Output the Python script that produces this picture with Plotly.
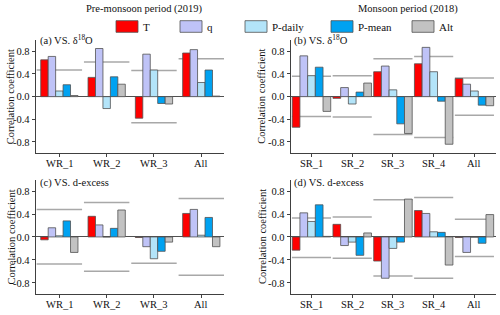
import plotly.graph_objects as go

# ---------------- data ----------------
series = ["T", "q", "P-daily", "P-mean", "Alt"]
colors = ["#FF0000", "#BFC3F7", "#B3E4F9", "#00A2F1", "#C2C2C2"]

pre_sites = ["WR_1", "WR_2", "WR_3", "All"]
mon_sites = ["SR_1", "SR_2", "SR_3", "SR_4", "All"]

# (a) pre-monsoon vs d18O
a_T = [0.65, 0.34, -0.38, 0.77]
a_q = [0.71, 0.85, 0.75, 0.83]
a_Pdaily = [0.10, -0.21, 0.47, 0.25]
a_Pmean = [0.21, 0.35, -0.12, 0.47]
a_Alt = [0.02, 0.22, -0.13, 0.01]
a_upper = [0.47, 0.61, 0.46, 0.67]
a_lower = [None, None, -0.46, None]

# (b) monsoon vs d18O
b_T = [-0.54, -0.03, 0.44, 0.58, 0.32]
b_q = [0.72, 0.16, 0.54, 0.87, 0.22]
b_Pdaily = [0.37, -0.13, 0.12, 0.44, 0.10]
b_Pmean = [0.52, 0.08, -0.48, -0.08, -0.15]
b_Alt = [-0.26, 0.24, -0.65, -0.84, -0.16]
b_upper = [0.36, 0.37, 0.67, 0.71, 0.33]
b_lower = [-0.35, -0.36, -0.67, -0.72, -0.33]

# (c) pre-monsoon vs d-excess
c_T = [-0.05, 0.36, -0.01, 0.41]
c_q = [0.16, 0.21, -0.17, 0.48]
c_Pdaily = [0.02, 0.0, -0.38, 0.03]
c_Pmean = [0.28, 0.15, -0.25, 0.34]
c_Alt = [-0.27, 0.47, -0.09, -0.17]
c_upper = [0.48, 0.60, None, 0.67]
c_lower = [-0.47, -0.60, -0.46, -0.67]

# (d) monsoon vs d-excess
d_T = [-0.23, 0.22, -0.42, 0.46, -0.01]
d_q = [0.42, -0.15, -0.72, 0.41, -0.27]
d_Pdaily = [0.27, -0.09, -0.20, 0.09, -0.005]
d_Pmean = [0.56, -0.32, -0.09, 0.08, -0.11]
d_Alt = [0.01, 0.07, 0.66, -0.49, 0.39]
d_upper = [0.33, 0.35, 0.65, 0.69, 0.31]
d_lower = [-0.36, -0.37, -0.68, -0.72, -0.34]

y_tickvals = [-0.8, -0.4, 0.0, 0.4, 0.8]
y_ticktext = ["-0.8", "-0.4", "0.0", "0.4", "0.8"]

# ---------------- figure ----------------
FONT = "Liberation Serif"
W, H = 500, 315
fig = go.Figure()

top_dom = [1 - 153.3 / H, 1 - 40 / H]
bot_dom = [1 - 294.3 / H, 1 - 179.6 / H]
left_dom = [35.7 / W, 224 / W]
right_dom = [290.7 / W, 496 / W]

panels = [
    # (values, sites, upper, lower, xaxis id, yaxis id, bar width, label y px)
    ([a_T, a_q, a_Pdaily, a_Pmean, a_Alt], pre_sites, a_upper, a_lower, "x", "y", 0.1575, 163.5),
    ([b_T, b_q, b_Pdaily, b_Pmean, b_Alt], mon_sites, b_upper, b_lower, "x2", "y2", 0.189, 163.5),
    ([c_T, c_q, c_Pdaily, c_Pmean, c_Alt], pre_sites, c_upper, c_lower, "x3", "y3", 0.1575, 304.5),
    ([d_T, d_q, d_Pdaily, d_Pmean, d_Alt], mon_sites, d_upper, d_lower, "x4", "y4", 0.189, 304.5),
]

shapes = []
annotations = []

def ann(text, x, y, size=10.5, angle=0, xanchor="center", xref="paper"):
    annotations.append(dict(text=text, x=(x / W if xref == "paper" else x), y=1 - y / H,
                            xref=xref, yref="paper",
                            showarrow=False, textangle=angle, xanchor=xanchor, yanchor="middle",
                            font=dict(family=FONT, size=size, color="#111")))

for vals, sites, upper, lower, xa, ya, bw, ly in panels:
    pos = list(range(len(sites)))
    for k, (name, col, v) in enumerate(zip(series, colors, vals)):
        fig.add_trace(go.Bar(
            x=pos, y=v, name=name, width=bw, offset=-2.5 * bw + k * bw,
            marker=dict(color=col, line=dict(color="#505050", width=0.8)),
            xaxis=xa, yaxis=ya, showlegend=False,
        ))
    for i in pos:
        for t in (upper[i], lower[i]):
            if t is None:
                continue
            shapes.append(dict(type="line", xref=xa, yref=ya, x0=i - 0.48, x1=i + 0.48,
                               y0=t, y1=t, layer="below",
                               line=dict(color="#A8A8A8", width=1.5)))
    # category labels
    for i, s in zip(pos, sites):
        ann(s, i, ly, 10.5, xref=xa)

def xaxis(dom, sites, rng, anchor):
    return dict(domain=dom, range=rng, anchor=anchor, showline=True, linecolor="#404040",
                linewidth=1, ticks="outside", ticklen=3, tickcolor="#404040",
                tickvals=list(range(len(sites))), showticklabels=False, showgrid=False,
                zeroline=False)

def yaxis(dom, anchor):
    return dict(domain=dom, range=[-1, 1], anchor=anchor, showline=True, linecolor="#404040",
                linewidth=1, ticks="outside", ticklen=3, tickcolor="#404040",
                tickvals=y_tickvals, ticktext=y_ticktext, showgrid=False,
                zeroline=True, zerolinecolor="#505050", zerolinewidth=1,
                tickfont=dict(family=FONT, size=10.5, color="#111"))

pre_rng = [-0.5, 3.48]
mon_rng = [-0.51, 4.53]

ann("Pre-monsoon period (2019)", 144, 8.5, 10.5)
ann("Monsoon period (2018)", 408, 8.5, 10.5)
ann("(a) VS. δ<sup>18</sup>O", 37.5, 40.5, 10.5, xanchor="left")
ann("(b) VS. δ<sup>18</sup>O", 292, 40.5, 10.5, xanchor="left")
ann("(c) VS. d-excess", 37.5, 183, 10.5, xanchor="left")
ann("(d) VS. d-excess", 292, 183, 10.5, xanchor="left")
for xc in (10.5, 262):
    ann("Correlation coefficient", xc, 96.7, 10.5, angle=-90)
    ann("Correlation coefficient", xc, 237, 10.5, angle=-90)

# manual legend
leg_x = [116, 180, 245, 331, 412]
for name, col, lx in zip(series, colors, leg_x):
    shapes.append(dict(type="rect", xref="paper", yref="paper",
                       x0=lx / W, x1=(lx + 22) / W, y0=1 - 32.3 / H, y1=1 - 20.7 / H,
                       fillcolor=col, line=dict(color="#505050", width=0.8)))
    ann(name, lx + 25, 26.5, 11, xanchor="left")

fig.update_layout(
    width=W, height=H, margin=dict(l=0, r=0, t=0, b=0),
    paper_bgcolor="white", plot_bgcolor="white", barmode="overlay",
    hovermode=False,
    xaxis=xaxis(left_dom, pre_sites, pre_rng, "y"),
    yaxis=yaxis(top_dom, "x"),
    xaxis2=xaxis(right_dom, mon_sites, mon_rng, "y2"),
    yaxis2=yaxis(top_dom, "x2"),
    xaxis3=xaxis(left_dom, pre_sites, pre_rng, "y3"),
    yaxis3=yaxis(bot_dom, "x3"),
    xaxis4=xaxis(right_dom, mon_sites, mon_rng, "y4"),
    yaxis4=yaxis(bot_dom, "x4"),
    shapes=shapes, annotations=annotations,
)

fig.write_html("out.html", config={"displayModeBar": False, "staticPlot": True},
               post_script="document.body.style.margin='0';document.body.style.overflow='hidden';")
